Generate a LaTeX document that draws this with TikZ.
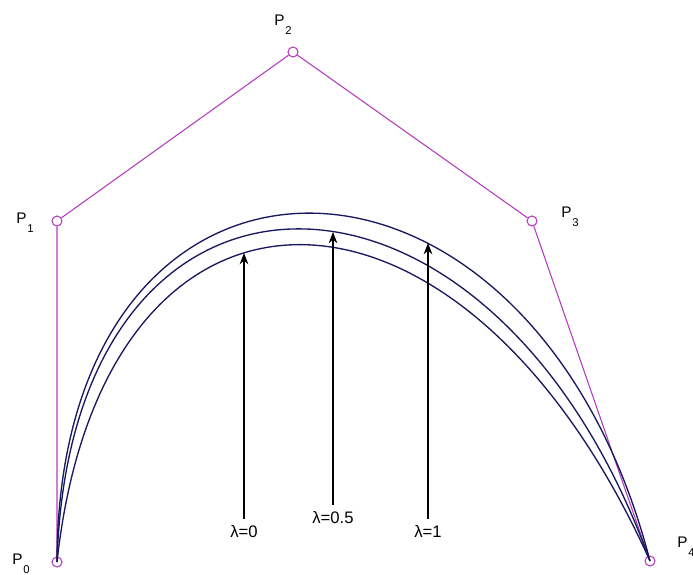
\documentclass[tikz,border=0pt]{standalone}
\usepackage{fontspec}
\setmainfont{Liberation Sans}
\usetikzlibrary{arrows.meta}
\definecolor{ctrl}{RGB}{180,60,190}
\definecolor{curvecol}{RGB}{25,25,95}
\newcommand{\plab}[1]{P\kern0.6pt\raisebox{-7pt}{\fontsize{8.5}{9}\selectfont #1}}
\begin{document}
\begin{tikzpicture}[x=0.75pt,y=-0.75pt,
  cpt/.style={circle,draw=ctrl,line width=0.8pt,minimum size=7.5pt,inner sep=0pt},
  poly/.style={draw=ctrl,line width=0.8pt},
  bez/.style={draw=curvecol,line width=1pt},
  plabel/.style={anchor=base west,inner sep=0pt,font=\fontsize{11.5}{12}\selectfont},
  lam/.style={anchor=base,inner sep=0pt,font=\fontsize{12.5}{13}\selectfont},
  arr/.style={draw=black,line width=1pt,-{Stealth[length=8.5pt,width=6.5pt]}}]
\useasboundingbox (0,0) rectangle (693,575);
\fill[white] (0,0) rectangle (693,575);
% control points
\node[cpt] (p0) at (57,562) {};
\node[cpt] (p1) at (57,221) {};
\node[cpt] (p2) at (293,52) {};
\node[cpt] (p3) at (532,221) {};
\node[cpt] (p4) at (650,561) {};
\draw[poly] (p0) -- (p1) -- (p2) -- (p3) -- (p4);
% labels of control points
\node[plabel] (n0) at (12,564) {\plab{0}};
\node[plabel] (n1) at (16,223) {\plab{1}};
\node[plabel] (n2) at (274,25) {\plab{2}};
\node[plabel] (n3) at (561,217) {\plab{3}};
\node[plabel] (n4) at (677,547) {\plab{4}};
% curves
\draw[bez] (p0.center) .. controls (58,97) and (530,97) .. (p4.center);
\draw[bez] (p0.center) .. controls (70,118) and (490,118) .. (p4.center);
\draw[bez] (p0.center) .. controls (103,139) and (460,139) .. (p4.center);
% arrow targets
\coordinate (c0) at (244,253);
\coordinate (c05) at (333,232);
\coordinate (c1) at (428,243);
% lambda labels
\node[lam] (l0) at (244,537) {λ=0};
\node[lam] (l05) at (333,523) {λ=0.5};
\node[lam] (l1) at (428,537) {λ=1};
\draw[arr] ([yshift=4.5pt]l0.north) -- (c0);
\draw[arr] ([yshift=4.5pt]l05.north) -- (c05);
\draw[arr] ([yshift=4.5pt]l1.north) -- (c1);
\end{tikzpicture}
\end{document}
